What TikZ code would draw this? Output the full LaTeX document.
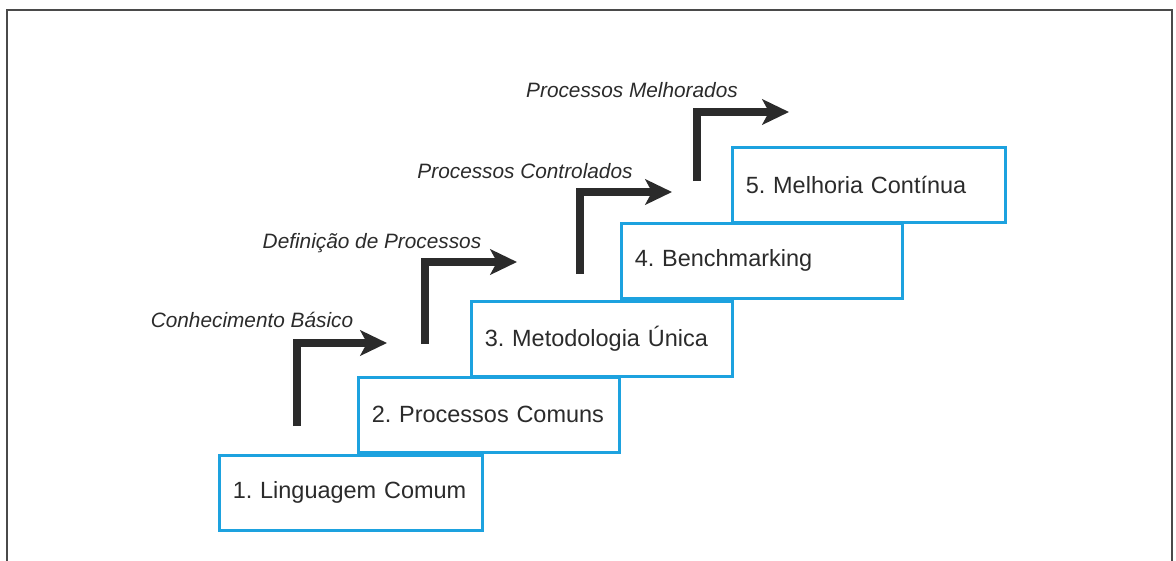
\documentclass[tikz,border=0pt]{standalone}
\usepackage{fontspec}
\setmainfont{Liberation Sans}
\usepackage{tikz}
\usetikzlibrary{arrows.meta}
\definecolor{stepblue}{HTML}{1DA2DF}
\definecolor{ink}{HTML}{2B2B2B}
\definecolor{frame}{HTML}{4A4A4A}
\frenchspacing

\begin{document}
\begin{tikzpicture}[
    x=0.75pt, y=-0.75pt,
    stepbox/.style={
      draw=stepblue, fill=white, line width=2.2pt,
      anchor=north west, minimum height=56pt,
      inner xsep=10pt, align=left, text=ink,
      font=\fontsize{17.6}{20}\selectfont
    },
    stair/.style={-{Stealth[length=20pt, width=19pt, inset=5pt]}, ink, line width=6pt},
    caption/.style={anchor=base, text=ink, font=\fontsize{15.6}{18}\selectfont\itshape}
  ]
  \useasboundingbox (0,0) rectangle (1176,560);
  \draw[frame, line width=1.6pt] (7,565) -- (7,10) -- (1172,10) -- (1172,565);

  % the five steps
  \node[stepbox, text width=177.5pt] (lang) at (218,454) {1. Linguagem Comum};
  \node[stepbox, text width=176pt] (proc) at (357,376) {2. Processos Comuns};
  \node[stepbox, text width=176pt] (meth) at (470,300) {3. Metodologia Única};
  \node[stepbox, text width=191pt] (bench) at (620,222) {4. Benchmarking};
  \node[stepbox, text width=185pt] (impr) at (731,146) {5. Melhoria Contínua};

  % arrows between the steps
  \coordinate (a1) at (297,426); \coordinate (b1) at (387,343);
  \coordinate (a2) at (425,344); \coordinate (b2) at (517,262);
  \coordinate (a3) at (580,274); \coordinate (b3) at (672,192);
  \coordinate (a4) at (697,181); \coordinate (b4) at (789,112);
  \draw[stair] (a1) |- (b1);
  \draw[stair] (a2) |- (b2);
  \draw[stair] (a3) |- (b3);
  \draw[stair] (a4) |- (b4);

  \node[caption] (basic) at (252,327) {Conhecimento Básico};
  \node[caption] (defin) at (372,248) {Definição de Processos};
  \node[caption] (contr) at (525,178) {Processos Controlados};
  \node[caption] (better) at (632,97) {Processos Melhorados};
\end{tikzpicture}
\end{document}
